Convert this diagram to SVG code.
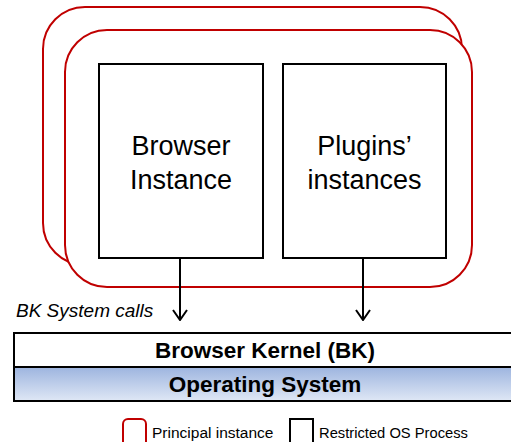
<svg xmlns="http://www.w3.org/2000/svg" width="511" height="442" viewBox="0 0 511 442">
<defs>
<linearGradient id="osg" x1="0" y1="0" x2="0" y2="1">
<stop offset="0" stop-color="#9db4df"/>
<stop offset="1" stop-color="#dfe7f5"/>
</linearGradient>
<marker id="arr" viewBox="0 0 12 16" refX="11" refY="8" markerWidth="12" markerHeight="16" markerUnits="userSpaceOnUse" orient="auto">
<path d="M1,1 L11,8 L1,15" fill="none" stroke="#000" stroke-width="2"/>
</marker>
<style>
.principal{fill:#fff;stroke:#c00000;stroke-width:2}
.proc{fill:#fff;stroke:#000;stroke-width:2}
.t{font-family:"Liberation Sans",Arial,sans-serif;fill:#000}
.big{font-size:27px;text-anchor:middle}
.bar{font-size:22.5px;font-weight:bold;text-anchor:middle}
.leg{font-size:15.5px}
</style>
</defs>
<g id="principal-back">
<rect class="principal" x="43" y="7" width="419" height="258" rx="42" ry="42"/>
</g>
<g id="principal-front">
<rect class="principal" x="65" y="30" width="407" height="257" rx="42" ry="42"/>
</g>
<g id="browser-instance">
<rect class="proc" x="99" y="64" width="164" height="194"/>
<text class="t big" x="181" y="155">Browser</text>
<text class="t big" x="181" y="189">Instance</text>
</g>
<g id="plugins-instances">
<rect class="proc" x="283" y="64" width="163" height="194"/>
<text class="t big" x="364.5" y="155">Plugins’</text>
<text class="t big" x="364.5" y="189">instances</text>
</g>
<g id="connectors">
<line x1="180" y1="258" x2="180" y2="320" stroke="#000" stroke-width="2" marker-end="url(#arr)"/>
<line x1="363" y1="258" x2="363" y2="320" stroke="#000" stroke-width="2" marker-end="url(#arr)"/>
</g>
<g id="bk-label">
<text class="t" x="16" y="317" font-size="19" font-style="italic">BK System calls</text>
</g>
<g id="browser-kernel">
<rect x="14" y="333" width="505" height="34" fill="#fff" stroke="#000" stroke-width="2"/>
<text class="t bar" x="265" y="358">Browser Kernel (BK)</text>
</g>
<g id="operating-system">
<rect x="14" y="367" width="505" height="34" fill="url(#osg)" stroke="#000" stroke-width="2"/>
<text class="t bar" x="265" y="392">Operating System</text>
</g>
<g id="legend">
<rect x="123" y="419" width="23" height="28" rx="5" ry="5" fill="#fff" stroke="#c00000" stroke-width="2"/>
<text class="t leg" x="152" y="438">Principal instance</text>
<rect x="290" y="419" width="23" height="28" fill="#fff" stroke="#000" stroke-width="2"/>
<text class="t leg" x="319" y="438" textLength="149" lengthAdjust="spacingAndGlyphs">Restricted OS Process</text>
</g>
</svg>
